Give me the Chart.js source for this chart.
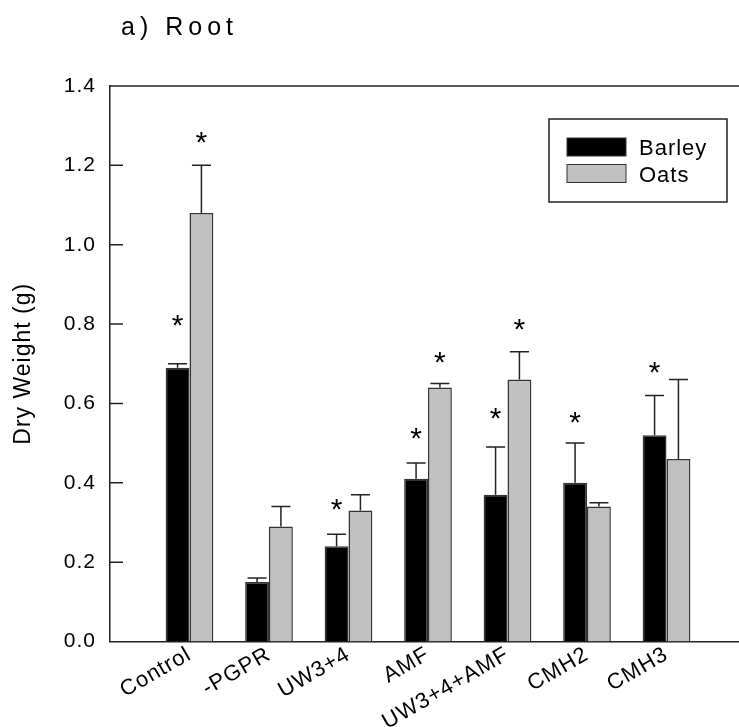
<!DOCTYPE html>
<html>
<head>
<meta charset="utf-8">
<title>a) Root</title>
<script src="https://cdn.jsdelivr.net/npm/chart.js@4.4.1/dist/chart.umd.min.js"></script>
<style>
  html, body { margin: 0; padding: 0; background: #fff; overflow: hidden; }
  #wrap { width: 760px; height: 727px; }
</style>
</head>
<body>
<div id="wrap"><canvas id="root" width="760" height="727"></canvas></div>
<script>
// root dry weight per treatment, mean and upper error (g)
var treatments = ["Control", "-PGPR", "UW3+4", "AMF", "UW3+4+AMF", "CMH2", "CMH3"];
var barley = [0.69, 0.15, 0.24, 0.41, 0.37, 0.40, 0.52];
var barleyErr = [0.01, 0.01, 0.03, 0.04, 0.12, 0.10, 0.10];
var oats = [1.08, 0.29, 0.33, 0.64, 0.66, 0.34, 0.46];
var oatsErr = [0.12, 0.05, 0.04, 0.01, 0.07, 0.01, 0.20];
// level (g) at which the significance star sits, null = not significant
var barleyStar = [0.81, null, 0.345, 0.525, 0.575, 0.565, 0.69];
var oatsStar = [1.27, null, null, 0.715, 0.80, null, null];
var yTicks = [0.0, 0.2, 0.4, 0.6, 0.8, 1.0, 1.2, 1.4];

var FONT = '"Liberation Sans", Arial, Helvetica, sans-serif';
Chart.defaults.font.family = FONT;
Chart.defaults.color = "#000";

function points(vals) {
  return vals.map(function(v, i) { return { x: i + 1, y: v }; });
}

var extras = {
  id: "extras",
  beforeUpdate: function(chart) {
    chart.ctx.letterSpacing = "1px";
  },
  afterDatasetsDraw: function(chart) {
    var ctx = chart.ctx, area = chart.chartArea, y = chart.scales.y;
    ctx.save();
    ctx.strokeStyle = "#222";
    ctx.lineWidth = 1.5;

    // top frame line and inward ticks on the left axis
    ctx.beginPath();
    ctx.moveTo(area.left, area.top);
    ctx.lineTo(chart.width, area.top);
    y.ticks.forEach(function(t) {
      if (t.value === 0) return;
      var py = y.getPixelForValue(t.value);
      ctx.moveTo(area.left, py);
      ctx.lineTo(area.left + 13, py);
    });
    ctx.stroke();

    // upper error bars
    chart.data.datasets.forEach(function(ds, di) {
      var meta = chart.getDatasetMeta(di);
      meta.data.forEach(function(bar, i) {
        var top = y.getPixelForValue(ds.data[i].y + ds.err[i]);
        ctx.beginPath();
        ctx.moveTo(bar.x, bar.y);
        ctx.lineTo(bar.x, top);
        ctx.moveTo(bar.x - 9.5, top);
        ctx.lineTo(bar.x + 9.5, top);
        ctx.stroke();
      });
    });

    // significance stars
    ctx.fillStyle = "#000";
    ctx.font = "30px " + FONT;
    ctx.letterSpacing = "0px";
    ctx.textAlign = "center";
    ctx.textBaseline = "alphabetic";
    var m = ctx.measureText("*");
    var shift = (m.actualBoundingBoxDescent - m.actualBoundingBoxAscent) / 2;
    chart.data.datasets.forEach(function(ds, di) {
      var meta = chart.getDatasetMeta(di);
      ds.stars.forEach(function(s, i) {
        if (s === null) return;
        ctx.fillText("*", meta.data[i].x, y.getPixelForValue(s) - shift);
      });
    });
    ctx.restore();
  },
  afterDraw: function(chart) {
    var ctx = chart.ctx, area = chart.chartArea;
    ctx.save();

    // legend box in the upper right of the plot
    var bx = area.right - 197, by = area.top + 33, bw = 178, bh = 83;
    ctx.strokeStyle = "#222";
    ctx.lineWidth = 1.5;
    ctx.strokeRect(bx, by, bw, bh);
    ctx.font = "22px " + FONT;
    ctx.letterSpacing = "1px";
    ctx.textBaseline = "alphabetic";
    ctx.textAlign = "left";
    chart.data.datasets.forEach(function(ds, i) {
      var sy = by + 19 + i * 26.5;
      ctx.fillStyle = ds.backgroundColor;
      ctx.fillRect(bx + 18, sy, 59, 18);
      ctx.lineWidth = 1;
      ctx.strokeStyle = "#333";
      ctx.strokeRect(bx + 18, sy, 59, 18);
      ctx.fillStyle = "#000";
      ctx.fillText(ds.label, bx + 90, sy + 17);
    });

    // panel title
    ctx.font = "25px " + FONT;
    ctx.letterSpacing = "5px";
    ctx.fillText("a) Root", 121, 35);
    ctx.restore();
  }
};

var ctx = document.getElementById("root").getContext("2d");
var chart = new Chart(ctx, {
  type: "bar",
  data: {
    datasets: [
      {
        label: "Barley",
        data: points(barley),
        err: barleyErr,
        stars: barleyStar,
        backgroundColor: "#000000",
        borderColor: "#333333",
        borderWidth: 1.5
      },
      {
        label: "Oats",
        data: points(oats),
        err: oatsErr,
        stars: oatsStar,
        backgroundColor: "#c0c0c0",
        borderColor: "#333333",
        borderWidth: 1.5
      }
    ]
  },
  options: {
    responsive: false,
    animation: false,
    layout: { padding: { top: 86, right: 14, left: 0, bottom: 0 } },
    datasets: { bar: { categoryPercentage: 0.6, barPercentage: 1.0 } },
    plugins: {
      legend: { display: false },
      tooltip: { enabled: false },
      title: { display: false }
    },
    scales: {
      x: {
        type: "linear",
        min: 0,
        max: 8,
        offset: false,
        afterBuildTicks: function(scale) {
          scale.ticks = treatments.map(function(t, i) { return { value: i + 1 }; });
        },
        afterFit: function(scale) { scale.height = 85.5; },
        ticks: {
          autoSkip: false,
          minRotation: 30,
          maxRotation: 30,
          padding: 0,
          font: { size: 22 },
          color: "#000",
          callback: function(v) { return treatments[v - 1]; }
        },
        grid: { display: false, drawTicks: false },
        border: { display: true, color: "#222", width: 1.5 }
      },
      y: {
        min: 0,
        max: 1.4,
        afterBuildTicks: function(scale) {
          scale.ticks = yTicks.map(function(v) { return { value: v }; });
        },
        afterFit: function(scale) { scale.width = 110; },
        ticks: {
          padding: 14,
          font: { size: 21 },
          color: "#000",
          callback: function(v) { return v.toFixed(1); }
        },
        grid: { display: false, drawTicks: false },
        border: { display: true, color: "#222", width: 1.5 },
        title: {
          display: true,
          text: "Dry Weight (g)",
          font: { size: 23 },
          color: "#000",
          padding: { top: 10, bottom: 0 }
        }
      }
    }
  },
  plugins: [extras]
});
</script>
</body>
</html>
